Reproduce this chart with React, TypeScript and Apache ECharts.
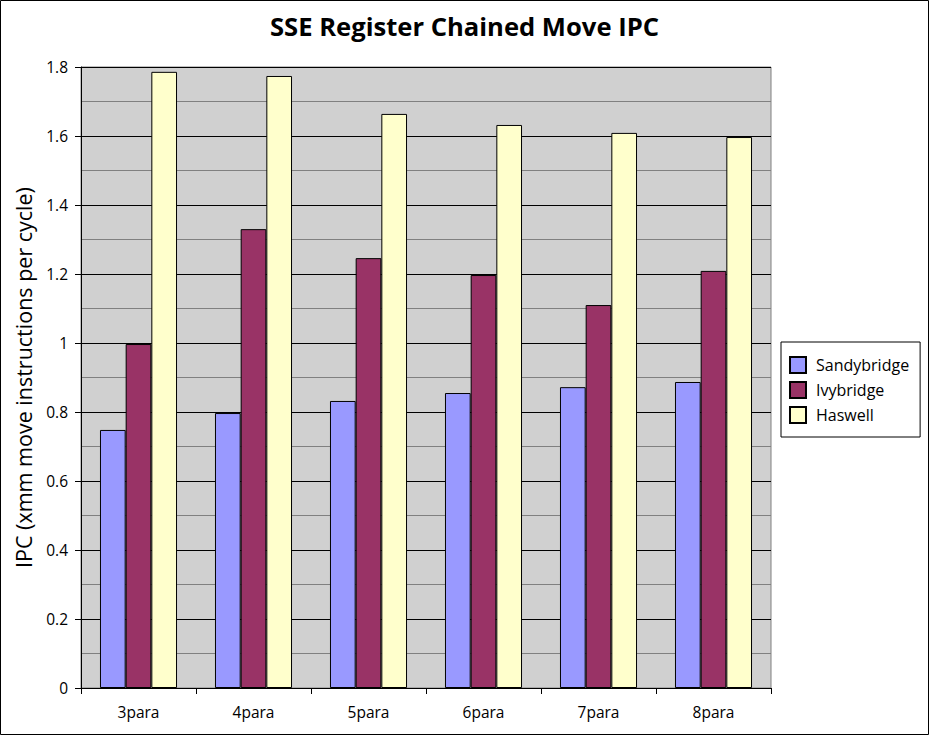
import React, { useEffect, useRef } from "react";
import * as echarts from "echarts";

const categories = ["3para", "4para", "5para", "6para", "7para", "8para"];
const sandybridge = [0.748, 0.797, 0.832, 0.855, 0.872, 0.887];
const ivybridge = [0.997, 1.330, 1.246, 1.197, 1.110, 1.209];
const haswell = [1.786, 1.774, 1.664, 1.632, 1.609, 1.597];
const seriesNames = ["Sandybridge", "Ivybridge", "Haswell"];
const seriesColors = ["#9999ff", "#993366", "#ffffcc"];

const FONT = "Open Sans";

export default function App() {
  const ref = useRef<HTMLDivElement>(null);
  useEffect(() => {
    document.body.style.margin = "0";
    const chart = echarts.init(ref.current!, null, { renderer: "svg" });
    const data = [sandybridge, ivybridge, haswell];
    chart.setOption({
      animation: false,
      backgroundColor: "#ffffff",
      textStyle: { fontFamily: FONT, color: "#000" },
      title: {
        text: "SSE Register Chained Move IPC",
        left: "center",
        top: 8,
        textStyle: { fontFamily: FONT, fontSize: 25.6, fontWeight: "bold", color: "#000" },
      },
      legend: {
        orient: "vertical",
        left: 781,
        top: 342,
        padding: [14, 11, 13, 8],
        borderColor: "#000",
        borderWidth: 1,
        itemWidth: 16,
        itemHeight: 16,
        itemGap: 7,
        icon: "rect",
        textStyle: { fontFamily: FONT, fontSize: 16, lineHeight: 16, color: "#000", padding: [0, 0, 0, 5] },
        data: seriesNames,
      },
      grid: {
        left: 81,
        top: 67,
        right: 158,
        bottom: 47,
        show: true,
        backgroundColor: "#d0d0d0",
        borderColor: "#808080",
        borderWidth: 1,
      },
      xAxis: {
        type: "category",
        data: categories,
        boundaryGap: true,
        axisLine: { show: true, lineStyle: { color: "#000", width: 1 } },
        axisTick: { show: true, length: 6, alignWithLabel: false, lineStyle: { color: "#000" } },
        axisLabel: { fontFamily: FONT, fontSize: 15.5, color: "#000", margin: 16 },
        splitLine: { show: false },
      },
      yAxis: {
        type: "value",
        min: 0,
        max: 1.8,
        interval: 0.2,
        name: "IPC (xmm move instructions per cycle)",
        nameLocation: "middle",
        nameGap: 47,
        nameTextStyle: { fontFamily: FONT, fontSize: 21.5, color: "#000" },
        axisLine: { show: true, lineStyle: { color: "#000", width: 1 } },
        axisTick: { show: true, length: 6, inside: false, lineStyle: { color: "#000" } },
        axisLabel: { fontFamily: FONT, fontSize: 15.5, color: "#000", margin: 13 },
        splitLine: { show: true, lineStyle: { color: "#000", width: 1 } },
        minorTick: { show: false, splitNumber: 2 },
        minorSplitLine: { show: true, lineStyle: { color: "#808080", width: 1 } },
      },
      series: seriesNames.map((name, i) => ({
        name,
        type: "bar",
        data: data[i],
        barGap: "0%",
        barCategoryGap: "33%",
        itemStyle: { color: seriesColors[i], borderColor: "#000", borderWidth: 1 },
      })),
      graphic: [
        {
          type: "rect",
          shape: { x: 0.5, y: 0.5, width: 928, height: 734 },
          style: { fill: "none", stroke: "#000", lineWidth: 1 },
          silent: true,
        },
      ],
    });
    return () => chart.dispose();
  }, []);
  return <div ref={ref} style={{ width: 929, height: 735 }} />;
}
